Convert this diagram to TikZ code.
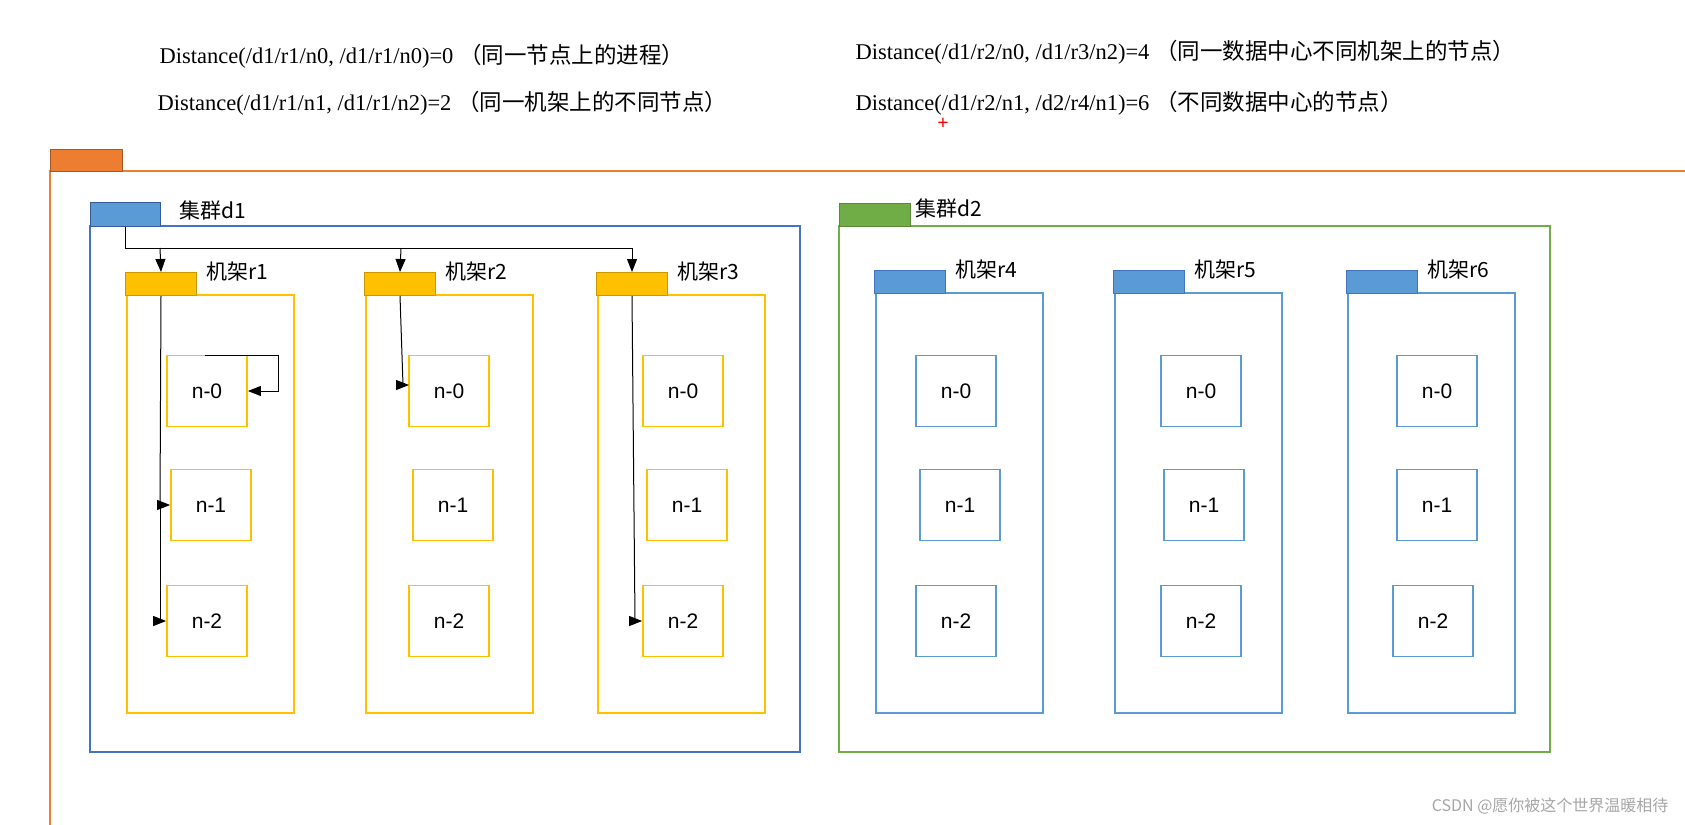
\documentclass[tikz,border=0pt]{standalone}
\usepackage{fontspec}
\setmainfont{Liberation Serif}
\newfontfamily\sansf{Liberation Sans}
\newfontfamily\cjk{Noto Sans CJK SC}
\usetikzlibrary{arrows.meta}
\definecolor{org}{HTML}{ED7D31}
\definecolor{blu}{HTML}{4472C4}
\definecolor{lblu}{HTML}{5B9BD5}
\definecolor{grn}{HTML}{70AD47}
\definecolor{yel}{HTML}{FFC000}
\definecolor{dyel}{HTML}{C99700}
\begin{document}
\begin{tikzpicture}[x=1pt,y=-1pt,
  lbl/.style={anchor=west,font=\sansf\fontsize{22}{24}\selectfont},
  nd/.style={draw=yel,line width=1.8pt,minimum width=80pt,minimum height=71pt,font=\sansf\fontsize{21}{22}\selectfont},
  bnd/.style={nd,draw=lblu},
  ar/.style={-{Triangle[length=13pt,width=10pt]},line width=1pt},
  dist/.style={anchor=west,font=\fontsize{22.5}{24}\selectfont}]
\useasboundingbox (0,0) rectangle (1685,824);
% header texts
\node[dist] (t1) at (156,56) {Distance(/d1/r1/n0, /d1/r1/n0)=0 {\cjk（同一节点上的进程）}};
\node[dist] (t2) at (154,103) {Distance(/d1/r1/n1, /d1/r1/n2)=2 {\cjk（同一机架上的不同节点）}};
\node[dist] (t3) at (852,52) {Distance(/d1/r2/n0, /d1/r3/n2)=4 {\cjk（同一数据中心不同机架上的节点）}};
\node[dist] (t4) at (852,103) {Distance(/d1/r2/n1, /d2/r4/n1)=6 {\cjk（不同数据中心的节点）}};
\node[text=red,font=\bfseries\fontsize{20}{20}\selectfont] (plus) at (943,124) {+};
% outer
\draw[org,line width=1.6pt] (50,830) -- (50,171) -- (1690,171);
\draw[draw=org!70!black,fill=org,line width=1pt] (50,149) rectangle (122,171);
% d1
\draw[blu,line width=1.8pt] (90,226) rectangle (800,752);
\node[draw=blu!80!black,fill=lblu,line width=1pt,minimum width=70pt,minimum height=24pt,inner sep=0pt] (d1) at (125,214) {};
\node[lbl,font=\cjk\fontsize{21}{24}\selectfont] (d1l) at (176,210) {集群d1};
% d2
\draw[grn,line width=1.8pt] (839,226) rectangle (1550,752);
\draw[draw=grn!80!black,fill=grn,line width=1pt] (839,203) rectangle (910,226);
\node[lbl,font=\cjk\fontsize{21}{24}\selectfont] (d2l) at (912,208) {集群d2};
% racks
\foreach \n/\x/\c/\f/\y in {r1/127/yel/dyel/272,r2/366/yel/dyel/272,r3/598/yel/dyel/272,r4/876/lblu/blu/270,r5/1115/lblu/blu/270,r6/1348/lblu/blu/270}{
  \draw[\c,line width=1.8pt] (\x,\y+23) rectangle (\x+167,713);
  \node[draw=\f,fill=\c,line width=1pt,minimum width=71pt,minimum height=23pt,inner sep=0pt,anchor=north west] (\n) at (\x-2,\y) {};
  \node[lbl,font=\cjk\fontsize{21}{24}\selectfont] (\n l) at (\x+76,\y) {机架\n};
}
% nodes
\foreach \r/\a/\b/\c in {r1/207/211/207,r2/449/453/449,r3/683/687/683}{
  \node[nd] (\r n0) at (\a,391) {n-0};
  \node[nd] (\r n1) at (\b,505) {n-1};
  \node[nd] (\r n2) at (\c,621) {n-2};
}
\foreach \r/\a/\b/\c in {r4/956/960/956,r5/1201/1204/1201,r6/1437/1437/1433}{
  \node[bnd] (\r n0) at (\a,391) {n-0};
  \node[bnd] (\r n1) at (\b,505) {n-1};
  \node[bnd] (\r n2) at (\c,621) {n-2};
}
% arrows
\draw[line width=1pt] (d1.south) -- (125,248) -- (632,248);
\draw[ar] (160,248) -- (r1.north);
\draw[ar] (401,248) -- (r2.north);
\draw[ar] (632,248) -- (r3.north);
\draw[ar] (r1.south) -- (160,505) -- (r1n1.west);
\draw[ar] (160,505) -- (160,621) -- (r1n2.west);
\draw[ar] (205,355) -- (278,355) -- (278,391) -- (r1n0.east);
\draw[ar] (r2.south) -- (403,385) -- (409,385);
\draw[ar] (r3.south) -- (635,621) -- (r3n2.west);
\node[anchor=east,text=gray!70,font=\cjk\fontsize{16}{18}\selectfont] (wm) at (1672,806) {CSDN @愿你被这个世界温暖相待};
\end{tikzpicture}
\end{document}
